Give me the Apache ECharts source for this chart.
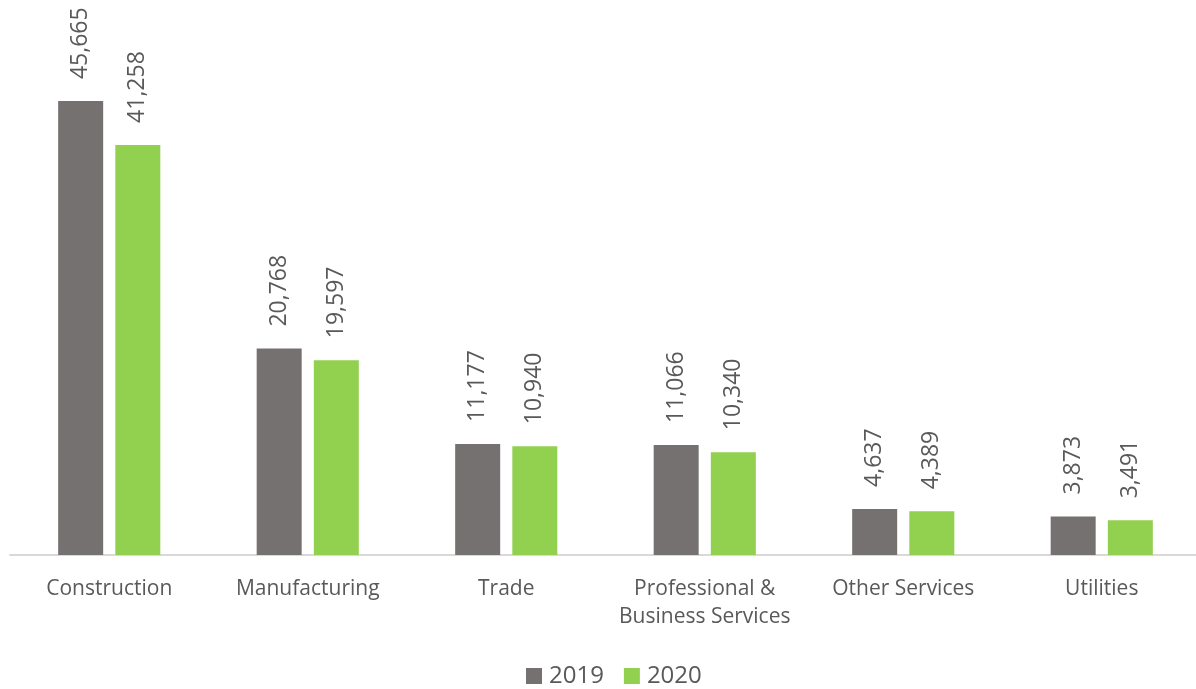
<!DOCTYPE html>
<html>
<head>
<meta charset="utf-8">
<script src="https://cdn.jsdelivr.net/npm/echarts@6/dist/echarts.min.js"></script>
<style>
  html, body { margin: 0; padding: 0; background: #ffffff; overflow: hidden; }
  #chart { width: 1201px; height: 689px; }
</style>
</head>
<body>
<div id="chart"></div>
<script>
// Employment by industry, 2019 vs 2020
const categories = ['Construction', 'Manufacturing', 'Trade', 'Professional &\nBusiness Services', 'Other Services', 'Utilities'];
const values2019 = [45665, 20768, 11177, 11066, 4637, 3873];
const values2020 = [41258, 19597, 10940, 10340, 4389, 3491];
const seriesNames = ['2019', '2020'];

const FONT = '"Open Sans", "Liberation Sans", sans-serif';
const TEXT = '#595959';

const labelStyle = {
  show: true,
  position: 'top',
  rotate: 90,
  align: 'left',
  verticalAlign: 'middle',
  distance: 22,
  color: TEXT,
  fontFamily: FONT,
  fontSize: 23,
  formatter: p => p.value.toLocaleString('en-US')
};

const chart = echarts.init(document.getElementById('chart'), null, { renderer: 'canvas' });
chart.setOption({
  animation: false,
  backgroundColor: '#ffffff',
  grid: { left: 10, right: 0, top: 58, bottom: 134, containLabel: false },
  legend: {
    data: seriesNames,
    top: 659,
    left: 521,
    itemWidth: 16,
    itemHeight: 16,
    itemGap: 20,
    icon: 'rect',
    textStyle: { color: TEXT, fontFamily: FONT, fontSize: 24, padding: [0, 0, 0, 2] }
  },
  xAxis: {
    type: 'category',
    data: categories,
    axisLine: { lineStyle: { color: '#d9d9d9', width: 2 } },
    axisTick: { show: false },
    axisLabel: { color: TEXT, fontFamily: FONT, fontSize: 21, margin: 20, lineHeight: 28, interval: 0 }
  },
  yAxis: {
    type: 'value',
    min: 0,
    max: 50000,
    show: false,
    splitLine: { show: false }
  },
  series: [
    {
      name: seriesNames[0],
      type: 'bar',
      data: values2019,
      barWidth: 45,
      barGap: '27%',
      itemStyle: { color: '#767171' },
      label: labelStyle
    },
    {
      name: seriesNames[1],
      type: 'bar',
      data: values2020,
      barWidth: 45,
      barGap: '27%',
      itemStyle: { color: '#92d050' },
      label: labelStyle
    }
  ]
});
</script>
</body>
</html>
